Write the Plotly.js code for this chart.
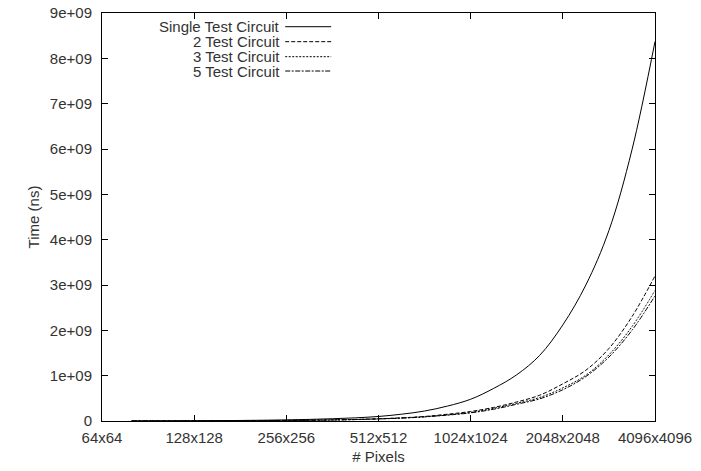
<!DOCTYPE html>
<html>
<head>
<meta charset="utf-8">
<script src="https://cdn.plot.ly/plotly-3.0.1.min.js"></script>
<style>html,body{margin:0;padding:0;background:#fff;}#chart{width:701px;height:471px;}</style>
</head>
<body>
<div id="chart"></div>
<script>
// Image side length (pixels per side) of each measurement
const sides = [80, 91, 108, 128, 152, 181, 215, 256, 304, 362, 431, 512, 609, 724, 861, 1024, 1218, 1448, 1722, 2048, 2435, 2896, 3444, 4096];
// Time (ns)
const singleTest = [2e6, 3e6, 4e6, 6e6, 8e6, 1.2e7, 1.7e7, 2.5e7, 3.5e7, 5e7, 7e7, 1.0e8, 1.5e8, 2.2e8, 3.3e8, 4.8e8, 7.2e8, 1.02e9, 1.45e9, 2.12e9, 3.0e9, 4.2e9, 5.98e9, 8.37e9];
const twoTest    = [1e6, 1.5e6, 2e6, 3e6, 4.5e6, 6e6, 9e6, 1.2e7, 1.8e7, 2.5e7, 3.5e7, 5e7, 7e7, 1.0e8, 1.5e8, 2.1e8, 3.0e8, 4.2e8, 5.7e8, 8.2e8, 1.12e9, 1.6e9, 2.3e9, 3.2e9];
const threeTest  = [1e6, 1.4e6, 2e6, 2.8e6, 4e6, 5.5e6, 8e6, 1.1e7, 1.6e7, 2.3e7, 3.3e7, 4.7e7, 6.6e7, 9.5e7, 1.35e8, 1.9e8, 2.8e8, 3.9e8, 5.2e8, 7.3e8, 1.01e9, 1.46e9, 2.08e9, 2.88e9];
const fiveTest   = [1e6, 1.4e6, 2e6, 2.7e6, 3.8e6, 5.4e6, 7.6e6, 1.1e7, 1.55e7, 2.2e7, 3.1e7, 4.5e7, 6.3e7, 9e7, 1.3e8, 1.8e8, 2.6e8, 3.7e8, 4.9e8, 6.9e8, 9.8e8, 1.41e9, 2.0e9, 2.76e9];
const seriesNames = ['Single Test Circuit', '2 Test Circuit', '3 Test Circuit', '5 Test Circuit'];
const seriesDash = ['solid', '4px,2px', '2px,1.5px', '5px,1.5px,2px,1.5px'];
const xTickVals = [64, 128, 256, 512, 1024, 2048, 4096];
const xTickText = ['64x64', '128x128', '256x256', '512x512', '1024x1024', '2048x2048', '4096x4096'];
const yTickVals = [0, 1e9, 2e9, 3e9, 4e9, 5e9, 6e9, 7e9, 8e9, 9e9];
const yTickText = ['0', '1e+09', '2e+09', '3e+09', '4e+09', '5e+09', '6e+09', '7e+09', '8e+09', '9e+09'];

const FONT = '"Liberation Sans", Arial, sans-serif';
const FS = 15;
const TXT = '#333';
const allY = [singleTest, twoTest, threeTest, fiveTest];

const traces = allY.map((ys, i) => ({
  x: sides, y: ys, type: 'scatter', mode: 'lines', name: seriesNames[i],
  line: {color: '#000', width: 1, dash: seriesDash[i], shape: 'spline', smoothing: 1},
  showlegend: false, hoverinfo: 'x+y'
}));

// gnuplot-style key: right-aligned label with line sample to its right
const keyY = [0.9664, 0.9297, 0.8929, 0.8578];
const annotations = seriesNames.map((n, i) => ({
  xref: 'paper', yref: 'paper', x: 0.3253, y: keyY[i], xanchor: 'right', yanchor: 'middle',
  text: n, showarrow: false, font: {family: FONT, size: FS, color: TXT}
}));
const shapes = seriesNames.map((n, i) => ({
  type: 'line', xref: 'paper', yref: 'paper', x0: 0.3313, x1: 0.4144, y0: keyY[i], y1: keyY[i],
  line: {color: '#000', width: 1, dash: seriesDash[i]}
}));

const layout = {
  width: 701, height: 471,
  margin: {l: 102, r: 46, t: 13, b: 50, pad: 0},
  paper_bgcolor: '#fff', plot_bgcolor: '#fff',
  font: {family: FONT, size: FS, color: TXT},
  xaxis: {
    type: 'log', range: [Math.log10(64), Math.log10(4096)],
    tickmode: 'array', tickvals: xTickVals, ticktext: xTickText,
    ticks: 'inside', ticklen: 6, tickcolor: '#000', tickwidth: 1,
    showline: true, linecolor: '#000', linewidth: 1, mirror: 'ticks',
    showgrid: false, zeroline: false, ticklabelstandoff: 3,
    tickfont: {family: FONT, size: FS, color: TXT},
    title: {text: '# Pixels', font: {family: FONT, size: FS, color: TXT}, standoff: 6}
  },
  yaxis: {
    range: [0, 9e9], tickmode: 'array', tickvals: yTickVals, ticktext: yTickText,
    ticks: 'inside', ticklen: 6, tickcolor: '#000', tickwidth: 1,
    showline: true, linecolor: '#000', linewidth: 1, mirror: 'ticks',
    showgrid: false, zeroline: false, ticklabelstandoff: 6,
    tickfont: {family: FONT, size: FS, color: TXT},
    title: {text: 'Time (ns)', font: {family: FONT, size: FS, color: TXT}, standoff: 6}
  },
  annotations: annotations,
  shapes: shapes
};

Plotly.newPlot('chart', traces, layout, {staticPlot: true, displayModeBar: false});
</script>
</body>
</html>
